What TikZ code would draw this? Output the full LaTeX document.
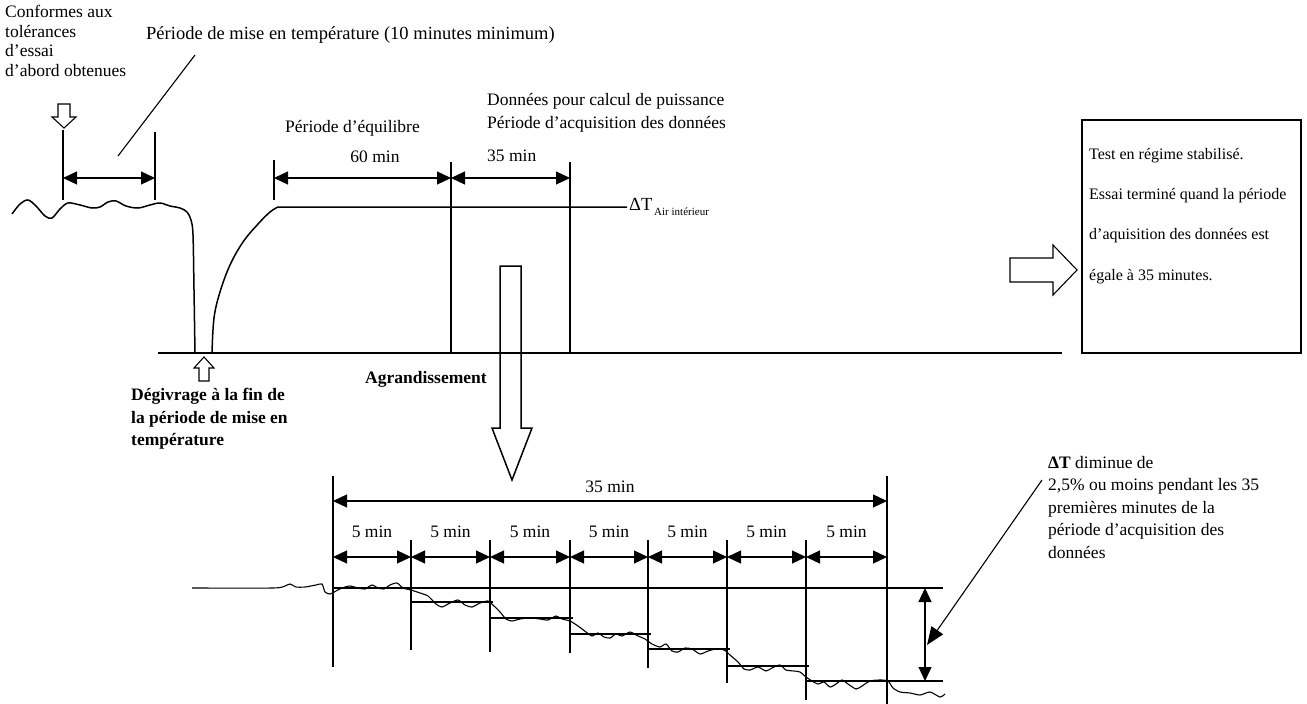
\documentclass[tikz,border=0pt]{standalone}
\usepackage{fontspec}
\setmainfont{Liberation Serif}
\usetikzlibrary{arrows.meta}

\tikzset{
  lbl/.style={inner sep=0pt, font=\fontsize{17.5}{21}\selectfont},
  lblb/.style={inner sep=0pt, font=\fontsize{17.5}{22.5}\selectfont\bfseries},
  boxtxt/.style={inner sep=0pt, anchor=west, font=\fontsize{16}{19}\selectfont},
  dim/.style={line width=1.2pt, {Triangle[length=14pt,width=13pt]}-{Triangle[length=14pt,width=13pt]}},
  thk/.style={line width=1.5pt},
  thn/.style={line width=1.1pt},
  hollow/.style={line width=1.1pt, line join=miter},
}

\begin{document}
\begin{tikzpicture}[x=1pt, y=-1pt]
    \useasboundingbox (0,0) rectangle (1307,704);

    % 左上说明文字
    \node[lbl, anchor=north west, align=left, font=\fontsize{17.5}{19.5}\selectfont] (conf) at (5,5) {Conformes aux\\tolérances\\d’essai\\d’abord obtenues};
    \node[lbl, anchor=west, font=\fontsize{18.5}{21}\selectfont] (miseT) at (146,35) {Période de mise en température (10 minutes minimum)};
    \coordinate (leadA) at (195,55);
    \coordinate (leadB) at (118,156);
    \draw[thn] (leadA) -- (leadB);

    % 空心向下箭头
    \draw[hollow] (58,104) -- (70,104) -- (70,117) -- (76,117) -- (64,128) -- (52,117) -- (58,117) -- cycle;

    % 预热期的尺寸线
    \coordinate (t1) at (63,178);
    \coordinate (t2) at (155,178);
    \draw[thn] (63,130) -- (63,200);
    \draw[thn] (155,132) -- (155,200);
    \draw[dim] (t1) -- (t2);

    % 温度曲线 - 波动、除霜下降
    \draw[thk] plot[smooth, tension=0.55] coordinates {(12,214) (20,204) (28,200) (36,206) (45,216) (52,218) (60,209) (68,203) (80,205) (92,208) (100,207) (108,202) (116,201) (126,206) (138,208) (150,205) (160,203) (170,206) (180,208) (187,212) (191,220) (193,235) (194,290) (195,353)};
    \draw[thk] plot[smooth, tension=0.6] coordinates {(212,353) (214,318) (220,292) (230,265) (243,242) (258,224) (270,212) (278,207)} -- (627,207);

    % 平衡期与采集期
    \coordinate (e0) at (274,178);
    \coordinate (e1) at (451,178);
    \coordinate (e2) at (570,178);
    \draw[thn] (274,160) -- (274,200);
    \draw[thk] (451,162) -- (451,353);
    \draw[thk] (570,162) -- (570,353);
    \draw[dim] (e0) -- (e1);
    \draw[dim] (e1) -- (e2);
    \node[lbl, anchor=west] (equi) at (285,128) {Période d’équilibre};
    \node[lbl] (soixante) at (375,157) {60 min};
    \node[lbl, anchor=west] (donnees) at (487,101) {Données pour calcul de puissance};
    \node[lbl, anchor=west] (acqui) at (487,124) {Période d’acquisition des données};
    \node[lbl, anchor=west] (trente) at (487,156) {35 min};
    \node[anchor=west, inner sep=0pt] (deltaT) at (629,207) {\fontsize{18.5}{21}\selectfont ΔT\raisebox{-5pt}{\fontsize{11}{13}\selectfont\,Air intérieur}};

    % 时间轴
    \draw[thk] (158,353) -- (1062,353);

    % 除霜标注
    \draw[hollow] (204,357) -- (214,368) -- (209,368) -- (209,381) -- (199,381) -- (199,368) -- (194,368) -- cycle;
    \node[lblb, anchor=north west, align=left] (degiv) at (131,388) {Dégivrage à la fin de\\la période de mise en\\température};
    \node[lblb, anchor=west] (agrand) at (365,379) {Agrandissement};
    \draw[thk, line join=miter] (500,266) -- (521,266) -- (521,428) -- (532,428) -- (512,480) -- (492,428) -- (500,428) -- cycle;

    % 右侧方框
    \draw[hollow] (1010,258) -- (1053,258) -- (1053,245) -- (1077,270) -- (1053,295) -- (1053,282) -- (1010,282) -- cycle;
    \draw[thn] (1082,120) rectangle (1301,353);
    \node[boxtxt] (b1) at (1089,156) {Test en régime stabilisé.};
    \node[boxtxt] (b2) at (1089,196) {Essai terminé quand la période};
    \node[boxtxt] (b3) at (1089,236) {d’aquisition des données est};
    \node[boxtxt] (b4) at (1089,277) {égale à 35 minutes.};

    % 放大图
    \draw[thn] (333,476) -- (333,667);
    \draw[thn] (887,476) -- (887,704);
    \draw[thn] (333,588) -- (943,588);
    \draw[thn] (806,681) -- (943,681);
    \coordinate (g0) at (333,501);
    \coordinate (g1) at (887,501);
    \draw[dim] (g0) -- (g1);
    \node[lbl] (trenteb) at (610,487) {35 min};
    \foreach \xv/\yb in {411/650, 490/652, 570/653, 648/668, 727/683, 806/700} {
        \draw[thn] (\xv,540) -- (\xv,\yb);
    }
    \foreach \xa/\xb/\lv [count=\i] in {333/411/588, 411/490/602, 490/570/618, 570/648/634, 648/727/649, 727/806/666, 806/887/681} {
        \coordinate (sa\i) at (\xa,557);
        \coordinate (sb\i) at (\xb,557);
        \draw[dim] (sa\i) -- (sb\i);
        \node[lbl] (cinq\i) at ({(\xa+\xb)/2},532) {5 min};
        \draw[thn] (\xa,\lv) -- (\xb+3,\lv);
    }

    % 数据曲线
    \draw[thn] plot[smooth, tension=0.4] coordinates {(192,588) (273,588) (285,586) (290,584) (296,587) (305,587) (316,585) (322,584) (325,592) (330,594) (336,591) (342,588) (350,586) (358,588) (365,589) (372,585) (378,588) (384,589) (390,585) (397,583) (403,588) (411,590) (420,593) (428,596) (436,604) (442,607) (450,603) (458,600) (465,605) (472,607) (480,603) (488,601) (494,606) (500,612) (506,619) (512,621) (520,619) (530,618) (540,619) (548,620) (556,616) (562,619) (570,621) (578,626) (586,632) (592,636) (598,633) (604,637) (610,638) (616,634) (622,636) (630,632) (638,636) (645,639) (652,644) (660,647) (666,644) (672,651) (678,652) (685,648) (692,649) (700,654) (708,651) (716,649) (724,650) (730,655) (738,662) (744,669) (750,670) (758,667) (766,671) (772,668) (780,665) (786,670) (794,671) (800,672) (806,677) (812,681) (818,684) (824,682) (830,687) (836,684) (842,680) (848,684) (856,689) (862,686) (870,681) (880,680) (888,681) (893,688) (900,692) (910,693) (920,695) (930,692) (940,697) (945,694)};

    % 下降幅度标注
    \coordinate (d0) at (925,588);
    \coordinate (d1) at (925,681);
    \draw[dim] (d0) -- (d1);
    \coordinate (note) at (1042,480);
    \coordinate (noteTip) at (927,645);
    \draw[thn, -{Triangle[length=18pt,width=14pt]}] (note) -- (noteTip);
    \node[lbl, anchor=north west, align=left, font=\fontsize{17.5}{22.5}\selectfont] (baisse) at (1048,456) {\textbf{ΔT} diminue de\\2,5\% ou moins pendant les 35\\premières minutes de la\\période d’acquisition des\\données};
\end{tikzpicture}
\end{document}
